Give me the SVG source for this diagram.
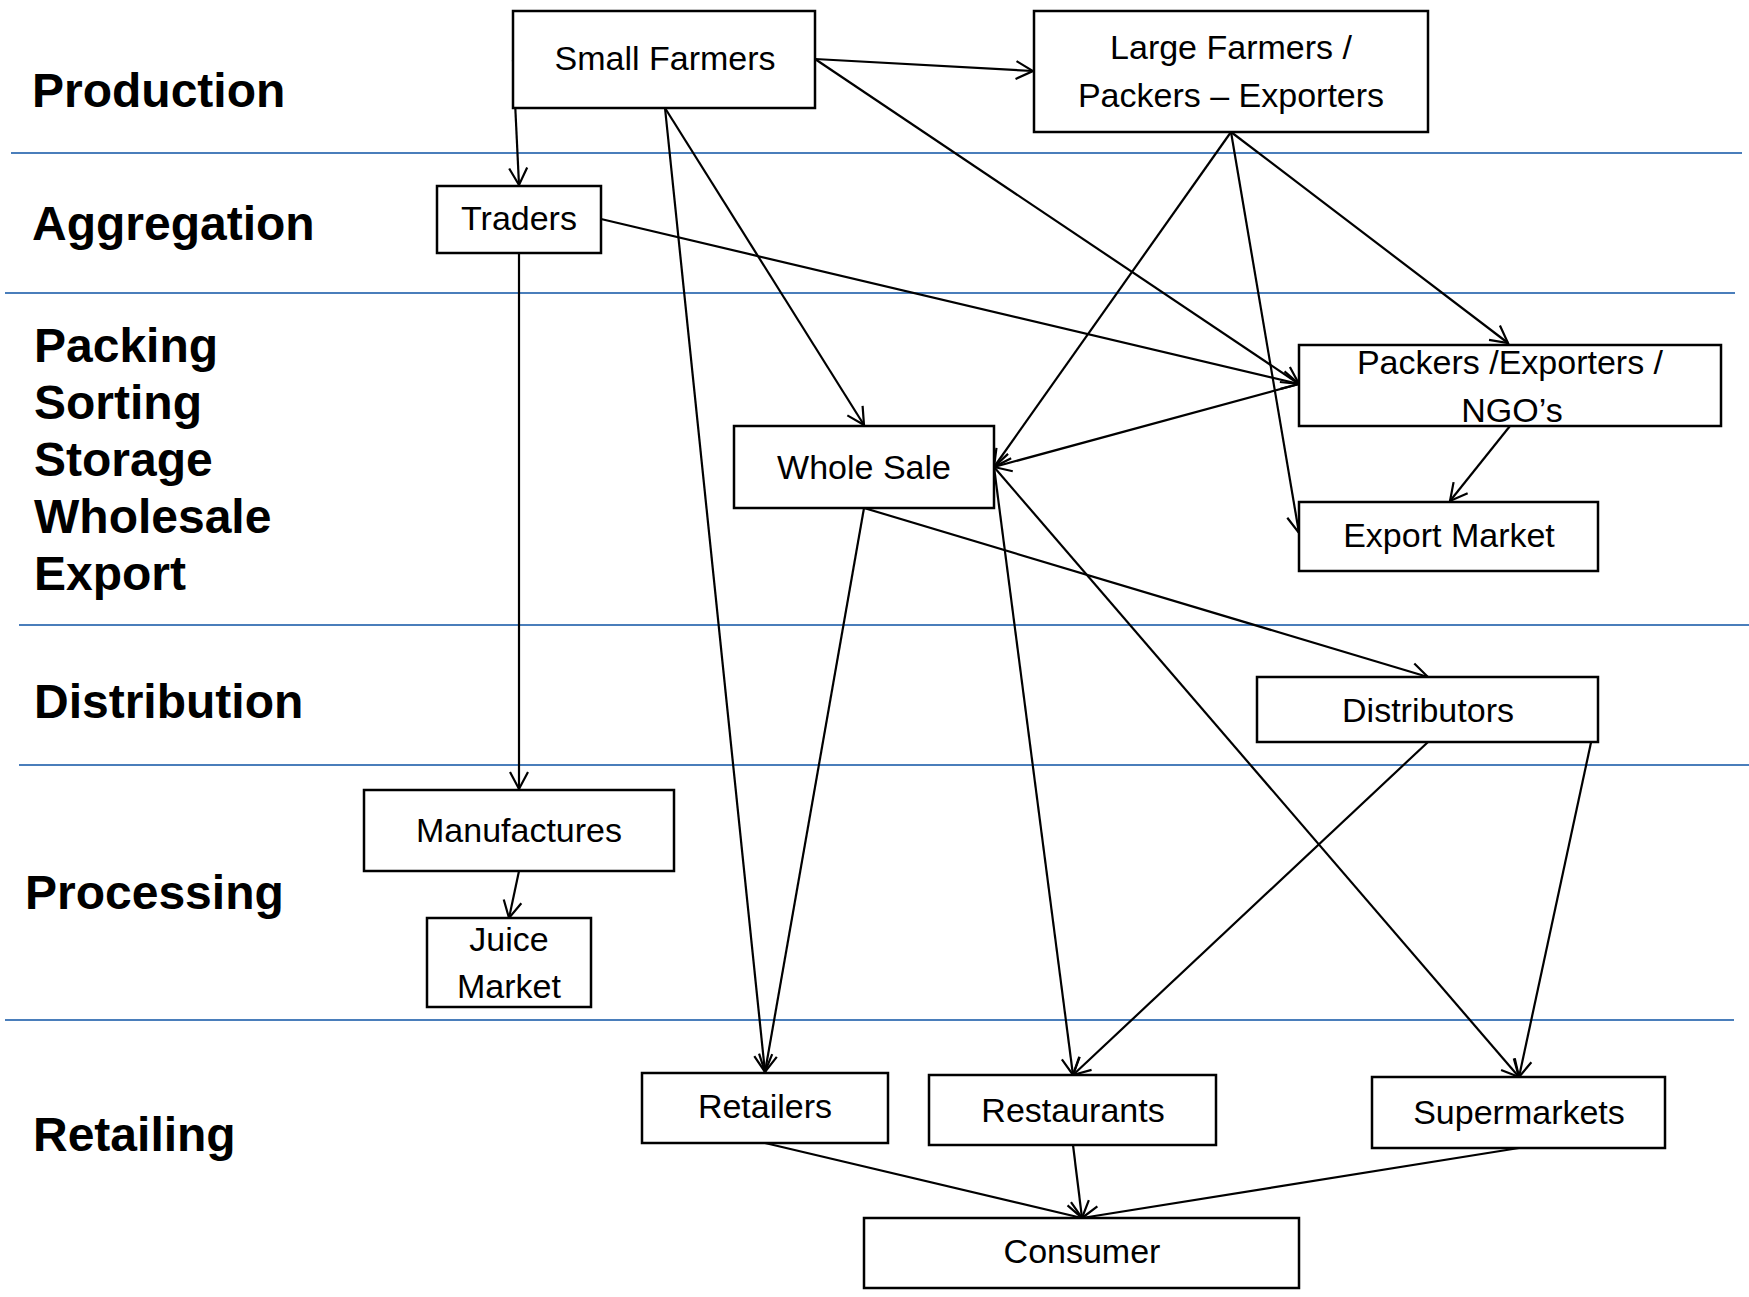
<svg xmlns="http://www.w3.org/2000/svg" width="1749" height="1297" viewBox="0 0 1749 1297">
  <style>
    .lane { stroke: #4A7EBB; stroke-width: 2; }
    .stage { font-family: "Liberation Sans", Arial, sans-serif; font-weight: bold; font-size: 48px; fill: #000; }
    .box { fill: #fff; stroke: #000; stroke-width: 2.5; }
    .lbl { font-family: "Liberation Sans", Arial, sans-serif; font-size: 34px; fill: #000; text-anchor: middle; }
    .edge { stroke: #000; stroke-width: 2.2; fill: none; marker-end: url(#arr); }
  </style>
  <defs>
    <marker id="arr" viewBox="-3 -3 24 24" refX="17" refY="9" markerWidth="24" markerHeight="24" markerUnits="userSpaceOnUse" orient="auto" overflow="visible">
      <path d="M0,0 L17,9 L0,18" fill="none" stroke="#000" stroke-width="2.2"/>
    </marker>
  </defs>
  <rect width="1749" height="1297" fill="#fff"/>

  <g id="lanes">
    <line class="lane" x1="11" y1="153" x2="1742" y2="153"/>
    <line class="lane" x1="5" y1="293" x2="1735" y2="293"/>
    <line class="lane" x1="19" y1="625" x2="1749" y2="625"/>
    <line class="lane" x1="19" y1="765" x2="1749" y2="765"/>
    <line class="lane" x1="5" y1="1020" x2="1734" y2="1020"/>
  </g>

  <g id="stages">
    <text class="stage" x="32" y="107">Production</text>
    <text class="stage" x="32" y="240">Aggregation</text>
    <text class="stage" x="34" y="362">Packing</text>
    <text class="stage" x="34" y="419">Sorting</text>
    <text class="stage" x="34" y="476">Storage</text>
    <text class="stage" x="34" y="533">Wholesale</text>
    <text class="stage" x="34" y="590">Export</text>
    <text class="stage" x="34" y="718">Distribution</text>
    <text class="stage" x="25" y="909">Processing</text>
    <text class="stage" x="33" y="1151">Retailing</text>
  </g>

  <g id="connectors">
    <line class="edge" x1="815" y1="59" x2="1033" y2="71"/>
    <line class="edge" x1="513" y1="60" x2="519" y2="185"/>
    <line class="edge" x1="665" y1="108" x2="765" y2="1072"/>
    <line class="edge" x1="665" y1="108" x2="864" y2="425"/>
    <line class="edge" x1="815" y1="59" x2="1299" y2="384"/>
    <line class="edge" x1="601" y1="219" x2="1299" y2="384"/>
    <line class="edge" x1="1299" y1="384" x2="994" y2="467"/>
    <line class="edge" x1="1231" y1="132" x2="994" y2="467"/>
    <line class="edge" x1="1231" y1="132" x2="1299" y2="533"/>
    <line class="edge" x1="1231" y1="132" x2="1508" y2="343"/>
    <line class="edge" x1="1510" y1="426" x2="1450" y2="501"/>
    <line class="edge" x1="519" y1="253" x2="519" y2="789"/>
    <line class="edge" x1="519" y1="871" x2="509" y2="918"/>
    <line class="edge" x1="864" y1="508" x2="765" y2="1072"/>
    <line class="edge" x1="864" y1="508" x2="1428" y2="677"/>
    <line class="edge" x1="994" y1="467" x2="1073" y2="1075"/>
    <line class="edge" x1="994" y1="467" x2="1519" y2="1077"/>
    <line class="edge" x1="1428" y1="742" x2="1073" y2="1075"/>
    <line class="edge" x1="1598" y1="710" x2="1519" y2="1077"/>
    <line class="edge" x1="765" y1="1143" x2="1082" y2="1218"/>
    <line class="edge" x1="1073" y1="1145" x2="1082" y2="1218"/>
    <line class="edge" x1="1519" y1="1148" x2="1082" y2="1218"/>
  </g>

  <g id="small-farmers">
    <rect class="box" x="513" y="11" width="302" height="97"/>
    <text class="lbl" x="665" y="70">Small Farmers</text>
  </g>
  <g id="large-farmers">
    <rect class="box" x="1034" y="11" width="394" height="121"/>
    <text class="lbl" x="1231" y="59">Large Farmers /</text>
    <text class="lbl" x="1231" y="107">Packers – Exporters</text>
  </g>
  <g id="traders">
    <rect class="box" x="437" y="186" width="164" height="67"/>
    <text class="lbl" x="519" y="230">Traders</text>
  </g>
  <g id="packers-ngos">
    <rect class="box" x="1299" y="345" width="422" height="81"/>
    <text class="lbl" x="1510" y="374">Packers /Exporters /</text>
    <text class="lbl" x="1512" y="422">NGO’s</text>
  </g>
  <g id="whole-sale">
    <rect class="box" x="734" y="426" width="260" height="82"/>
    <text class="lbl" x="864" y="479">Whole Sale</text>
  </g>
  <g id="export-market">
    <rect class="box" x="1299" y="502" width="299" height="69"/>
    <text class="lbl" x="1449" y="547">Export Market</text>
  </g>
  <g id="distributors">
    <rect class="box" x="1257" y="677" width="341" height="65"/>
    <text class="lbl" x="1428" y="722">Distributors</text>
  </g>
  <g id="manufactures">
    <rect class="box" x="364" y="790" width="310" height="81"/>
    <text class="lbl" x="519" y="842">Manufactures</text>
  </g>
  <g id="juice-market">
    <rect class="box" x="427" y="918" width="164" height="89"/>
    <text class="lbl" x="509" y="951">Juice</text>
    <text class="lbl" x="509" y="998">Market</text>
  </g>
  <g id="retailers">
    <rect class="box" x="642" y="1073" width="246" height="70"/>
    <text class="lbl" x="765" y="1118">Retailers</text>
  </g>
  <g id="restaurants">
    <rect class="box" x="929" y="1075" width="287" height="70"/>
    <text class="lbl" x="1073" y="1122">Restaurants</text>
  </g>
  <g id="supermarkets">
    <rect class="box" x="1372" y="1077" width="293" height="71"/>
    <text class="lbl" x="1519" y="1124">Supermarkets</text>
  </g>
  <g id="consumer">
    <rect class="box" x="864" y="1218" width="435" height="70"/>
    <text class="lbl" x="1082" y="1263">Consumer</text>
  </g>
</svg>
